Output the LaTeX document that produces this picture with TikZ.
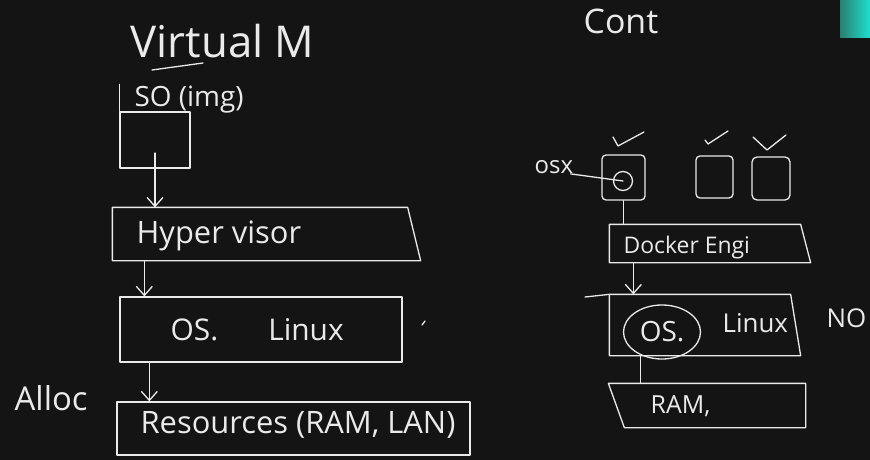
\documentclass[tikz,border=0pt]{standalone}
\usepackage{fontspec}
\setmainfont{Open Sans}
\usepackage{tikz}
\usetikzlibrary{shapes,shapes.geometric,arrows,arrows.meta}

\definecolor{board}{HTML}{141414}
\definecolor{chalk}{HTML}{EAEAEA}
\definecolor{tealA}{HTML}{2A7F70}
\definecolor{tealB}{HTML}{1FE0CF}
\newcommand{\handsz}[1]{\fontsize{#1}{#1}\selectfont}

\begin{document}
\begin{tikzpicture}[line width=1.3bp, line cap=round, line join=round,
  box/.style={draw=chalk, inner sep=0pt},
  slab/.style={inner sep=0pt},
  lbl/.style={text=chalk, anchor=base west, inner sep=0pt},
  arr/.style={draw=chalk, -{Straight Barb[length=9bp,width=16bp]}}]

\useasboundingbox (0bp,0bp) rectangle (870bp,-460bp);
\fill[board] (0bp,0bp) rectangle (870bp,-460bp);
\clip (0bp,0bp) rectangle (870bp,-460bp);
\shade[left color=tealA, right color=tealB] (840bp,0bp) rectangle (870bp,-37bp);

% virtual machine side
\node (vmtitle) at (130bp,-57bp)[lbl] {\handsz{44}Virtual M};
\draw[chalk] (152bp,-70bp) -- (203bp,-63bp);
\node (vmimg) at (134bp,-106bp)[lbl] {\handsz{28}SO (img)};
\node (vmbox) at (155bp,-140bp)[box, rectangle, minimum width=70bp, minimum height=56bp] {};
\draw[chalk] (vmbox.north west) -- ++(0bp,27bp);
\node (hyp) at (260bp,-234bp)[slab, rectangle, minimum width=294bp, minimum height=52bp] {};
\draw[chalk] (hyp.north west) -- (hyp.north east) -- ([xshift=13bp]hyp.south east) -- (hyp.south west) -- cycle;
\node (hyptxt) at (136bp,-243bp)[lbl] {\handsz{31}Hyper visor};
\node (los) at (261bp,-329.5bp)[box, rectangle, minimum width=282bp, minimum height=65bp] {};
\node (lostxt) at (170bp,-340bp)[lbl] {\handsz{30}OS.\hspace{50bp}Linux};
\draw[chalk] (422bp,-325bp) -- (425bp,-321bp);
\node (res) at (293.5bp,-428.5bp)[box, rectangle, minimum width=353bp, minimum height=53bp] {};
\node (restxt) at (140bp,-433bp)[lbl] {\handsz{31}Resources (RAM, LAN)};
\node (alloc) at (14bp,-410bp)[lbl] {\handsz{33}Alloc};

\draw[arr] ([yshift=-13bp]vmbox.center) -- (vmbox.center |- hyp.north);
\draw[arr] ([xshift=32bp]hyp.south west) -- ([xshift=32bp]hyp.south west |- los.north);
\draw[arr] ([xshift=30bp]los.south west) -- ([xshift=30bp]los.south west |- res.north);

% container side
\node (cttitle) at (583bp,-33bp)[lbl] {\handsz{34}Cont};
\node (c1) at (623.5bp,-177.5bp)[box, rectangle, rounded corners=4bp, minimum width=43bp, minimum height=45bp] {};
\node (c2) at (714.5bp,-177bp)[box, rectangle, rounded corners=4bp, minimum width=37bp, minimum height=42bp] {};
\node (c3) at (771bp,-178.5bp)[box, rectangle, rounded corners=5bp, minimum width=38bp, minimum height=43bp] {};
\draw[chalk] (613bp,-137bp) -- (618bp,-146bp) -- (644bp,-132bp);
\draw[chalk] (705bp,-140bp) -- (708bp,-144bp) -- (728bp,-131bp);
\draw[chalk] (753bp,-137bp) -- (767bp,-150bp) -- (786bp,-135bp);
\node (osxdot) at (623bp,-181bp)[draw=chalk, circle, inner sep=0pt, minimum size=19bp] {};
\node (osx) at (534bp,-173bp)[lbl] {\handsz{24}osx};
\draw[chalk] ([xshift=-3bp]osx.south east) -- (osxdot.center);
\node (dock) at (705bp,-243.5bp)[slab, rectangle, minimum width=190bp, minimum height=37bp] {};
\draw[chalk] (dock.north west) -- (dock.north east) -- ([xshift=10bp]dock.south east) -- (dock.south west) -- cycle;
\node (docktxt) at (623bp,-253bp)[lbl] {\handsz{23}Docker Engi};
\draw[chalk] (c1.south) -- (c1.south |- dock.north);
\node (ros) at (700bp,-325bp)[slab, rectangle, minimum width=180bp, minimum height=60bp] {};
\draw[chalk] (ros.north west) -- (ros.north east) -- ([xshift=10bp]ros.south east) -- (ros.south west) -- cycle;
\coordinate (rosedge) at (585bp,-297bp);
\draw[chalk] (rosedge) -- (ros.north west);
\node (rosos) at (662bp,-332bp)[draw=chalk, ellipse, text=chalk, inner sep=0pt, minimum width=77bp, minimum height=54bp] {\handsz{28}OS.};
\node (roslin) at (722bp,-332bp)[lbl] {\handsz{26}Linux};
\draw[arr] ([xshift=24bp]dock.south west) -- ([xshift=24bp]dock.south west |- ros.north);
\node (ram) at (707bp,-405.5bp)[slab, rectangle, minimum width=196bp, minimum height=43bp] {};
\draw[chalk] (ram.north west) -- (ram.north east) -- (ram.south east) -- ([xshift=16bp]ram.south west) -- cycle;
\node (ramtxt) at (650bp,-413bp)[lbl] {\handsz{25}RAM,};
\draw[chalk] ([xshift=31bp]ros.south west) -- ([xshift=31bp]ros.south west |- ram.north);
\node (no) at (826bp,-327bp)[lbl] {\handsz{26}NO};
\end{tikzpicture}
\end{document}
